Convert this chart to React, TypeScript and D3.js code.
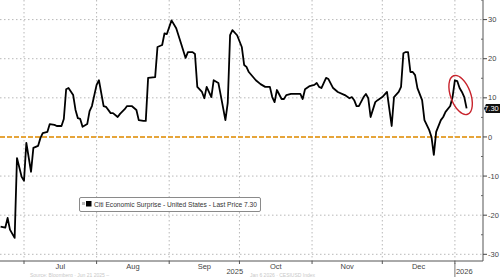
import React from "react";
import * as d3 from "d3";

const dates: string[] = [
  "2025-06-21","2025-06-23","2025-06-24","2025-06-25","2025-06-27","2025-06-28","2025-06-30",
  "2025-07-01","2025-07-02","2025-07-04","2025-07-05","2025-07-07","2025-07-08","2025-07-09",
  "2025-07-11","2025-07-12","2025-07-14","2025-07-15","2025-07-17","2025-07-18","2025-07-19",
  "2025-07-20","2025-07-22","2025-07-23","2025-07-24","2025-07-25","2025-07-26","2025-07-28",
  "2025-07-29","2025-07-30","2025-08-01","2025-08-02","2025-08-04","2025-08-05","2025-08-07",
  "2025-08-08","2025-08-10","2025-08-11","2025-08-13","2025-08-14","2025-08-16","2025-08-18",
  "2025-08-19","2025-08-21","2025-08-22","2025-08-23","2025-08-26","2025-08-27","2025-08-29",
  "2025-08-30","2025-08-31","2025-09-02","2025-09-04","2025-09-06","2025-09-08","2025-09-09",
  "2025-09-11","2025-09-12","2025-09-13","2025-09-15","2025-09-16","2025-09-17","2025-09-19",
  "2025-09-20","2025-09-22","2025-09-23","2025-09-25","2025-09-26","2025-09-27","2025-09-28",
  "2025-09-30","2025-10-02","2025-10-03","2025-10-04","2025-10-05","2025-10-08","2025-10-10",
  "2025-10-12","2025-10-14","2025-10-15","2025-10-16","2025-10-17","2025-10-19","2025-10-20",
  "2025-10-21","2025-10-23","2025-10-27","2025-10-28","2025-10-29","2025-10-31","2025-11-02",
  "2025-11-03","2025-11-04","2025-11-05","2025-11-07","2025-11-08","2025-11-10","2025-11-12",
  "2025-11-15","2025-11-17","2025-11-18","2025-11-19","2025-11-20","2025-11-21","2025-11-23",
  "2025-11-24","2025-11-25","2025-11-26","2025-11-28","2025-11-29","2025-12-01","2025-12-03",
  "2025-12-05","2025-12-06","2025-12-08","2025-12-09","2025-12-10","2025-12-11","2025-12-12",
  "2025-12-13","2025-12-14","2025-12-15","2025-12-16","2025-12-18","2025-12-19","2025-12-21",
  "2025-12-22","2025-12-23","2025-12-24","2025-12-26","2025-12-27","2025-12-28","2025-12-30",
  "2025-12-31","2026-01-01","2026-01-02","2026-01-03","2026-01-04","2026-01-05","2026-01-06",
];

const values: number[] = [
  -22.9,-23.2,-20.7,-23.7,-25.8,-5.4,-10.2,
  -11.2,-1.5,-8.9,-2.8,-2.3,-0.3,1.0,
  1.3,3.3,3.1,2.8,2.8,4.6,12.2,
  12.5,10.7,6.9,4.8,4.6,2.6,3.3,
  6.6,7.9,13.3,14.5,7.9,7.7,6.1,
  6.1,5.1,5.9,7.1,7.9,7.9,6.9,
  4.3,4.1,4.1,15.1,15.3,23.0,23.5,
  26.5,26.3,29.8,27.8,24.0,20.2,21.7,
  21.7,21.2,12.8,11.5,9.9,12.8,10.2,
  14.5,13.8,10.7,4.3,8.7,26.0,27.3,
  26.0,23.0,18.4,17.9,16.6,14.5,13.5,
  12.8,12.8,10.2,8.9,12.0,9.7,9.7,
  10.7,11.0,11.0,9.7,12.2,13.0,13.3,
  13.8,12.8,12.5,15.1,14.8,12.5,11.5,
  10.7,9.9,10.2,9.4,7.9,7.9,10.2,
  11.0,9.9,5.1,8.9,9.4,10.2,11.5,
  2.8,10.2,11.5,12.8,21.4,21.7,21.7,
  16.6,16.6,15.8,12.5,9.4,4.3,1.8,
  0.0,-4.6,1.3,4.3,5.1,6.4,7.9,
  10.2,14.5,14.3,12.5,11.5,10.2,7.3,
];

const yTicks: number[] = [30, 20, 10, 0, -10, -20, -30];
const yMinorTicks: number[] = [35, 25, 15, 5, -5, -15, -25];
const monthLabels: string[] = ["Jul", "Aug", "Sep", "Oct", "Nov", "Dec"];
const monthStarts: string[] = ["2025-07-01","2025-08-01","2025-09-01","2025-10-01","2025-11-01","2025-12-01","2026-01-01"];
const yearLabels: { label: string; date: string }[] = [
  { label: "2025", date: "2025-09-29" },
  { label: "2026", date: "2026-01-05" },
];
const seriesName = "Citi Economic Surprise - United States - Last Price 7.30";
const footerLeft = "Source: Bloomberg · Jun 21 2025 –";
const footerRight = "Jan 6 2026 · CESIUSD Index";
const lastPrice = 7.3;

const parse = d3.timeParse("%Y-%m-%d");

export default function App() {
  const W = 500, H = 277;
  const axisX = 483;
  const axisY = 261;
  const x = d3.scaleTime()
    .domain([new Date(2025, 5, 20, 18), new Date(2026, 0, 13)])
    .range([0, axisX]);
  const y = d3.scaleLinear().domain([-30, 30]).range([254.3, 19.6]);

  const data = dates.map((d, i) => ({ date: parse(d) as Date, value: values[i] }));
  const line = d3.line<{ date: Date; value: number }>()
    .x((d) => x(d.date))
    .y((d) => y(d.value));

  const font = "'Liberation Sans', Arial, sans-serif";
  const gridColor = "#b8b8b8";
  const ms = monthStarts.map((m) => parse(m) as Date);
  const lastDate = data[data.length - 1].date;
  const ly = y(lastPrice);

  return (
    <svg width={W} height={H} style={{ position: "absolute", left: 0, top: 0, background: "#fff" }} fontFamily={font}>
      <rect x={0} y={0} width={W} height={H} fill="#fff" />
      {yTicks.filter((t) => t !== 0).map((t) => (
        <line key={"hg" + t} x1={0} x2={axisX} y1={y(t)} y2={y(t)} stroke={gridColor} strokeWidth={1} strokeDasharray="1.5,2.5" />
      ))}
      {ms.map((m, i) => (
        <line key={"vg" + i} x1={x(m)} x2={x(m)} y1={0} y2={axisY} stroke={gridColor} strokeWidth={1} strokeDasharray="1.5,2.5" />
      ))}
      <line x1={0} x2={axisX} y1={y(0)} y2={y(0)} stroke="#e6a53a" strokeWidth={2} strokeDasharray="5,2" />
      <path d={line(data) || ""} fill="none" stroke="#000" strokeWidth={1.8} strokeLinejoin="round" />
      <ellipse cx={x(lastDate) - 6} cy={95} rx={10} ry={20.5} fill="none" stroke="#c8232c" strokeWidth={1.4}
        transform={`rotate(-20 ${x(lastDate) - 6} 95)`} />
      <line x1={axisX} x2={axisX} y1={0} y2={axisY} stroke="#555" strokeWidth={1} />
      {yTicks.map((t) => (
        <g key={"yt" + t}>
          <line x1={axisX} x2={axisX + 4} y1={y(t)} y2={y(t)} stroke="#444" strokeWidth={1} />
          <text x={axisX + 5} y={y(t)} dy="0.35em" fontSize={7.5} fill="#444">{t}</text>
        </g>
      ))}
      {yMinorTicks.map((t) => (
        <line key={"ym" + t} x1={axisX - 2} x2={axisX} y1={y(t)} y2={y(t)} stroke="#666" strokeWidth={1} />
      ))}
      <path d={`M${axisX + 1},${ly} L${axisX + 3},${ly - 4.5} L500,${ly - 4.5} L500,${ly + 4.5} L${axisX + 3},${ly + 4.5} Z`} fill="#111" />
      <text x={491.5} y={ly} dy="0.35em" textAnchor="middle" fontSize={7.5} fill="#fff">{lastPrice.toFixed(2)}</text>
      <line x1={0} x2={axisX} y1={axisY} y2={axisY} stroke="#555" strokeWidth={1} />
      {ms.map((m, i) => (
        <line key={"xt" + i} x1={x(m)} x2={x(m)} y1={axisY} y2={axisY + 3} stroke="#555" strokeWidth={1} />
      ))}
      {monthLabels.map((lab, i) => {
        const cx = (x(ms[i]) + x(ms[i + 1])) / 2;
        return (
          <text key={"ml" + lab} x={cx} y={266} dy="0.35em" textAnchor="middle" fontSize={7.5} fill="#444">{lab}</text>
        );
      })}
      {yearLabels.map((yl) => (
        <text key={yl.label} x={x(parse(yl.date) as Date)} y={271.5} dy="0.35em" textAnchor="middle" fontSize={7.5} fill="#444">{yl.label}</text>
      ))}
      <line x1={x(ms[6])} x2={x(ms[6])} y1={axisY + 2} y2={H} stroke="#777" strokeWidth={1} />
      <rect x={79.5} y={197.5} width={181} height={14} fill="#fff" stroke="#8a8a8a" strokeWidth={1} rx={1.5} />
      <rect x={82} y={202} width={3} height={3} fill="#bbb" />
      <rect x={86} y={201} width={5.5} height={5.5} fill="#000" />
      <text x={94} y={204.5} dy="0.35em" fontSize={7} fill="#333" textLength={163} lengthAdjust="spacingAndGlyphs">{seriesName}</text>
      <text x={30} y={276.5} fontSize={5} fill="#c8c8c8">{footerLeft}</text>
      <text x={250} y={276.5} fontSize={5} fill="#c8c8c8">{footerRight}</text>
    </svg>
  );
}
